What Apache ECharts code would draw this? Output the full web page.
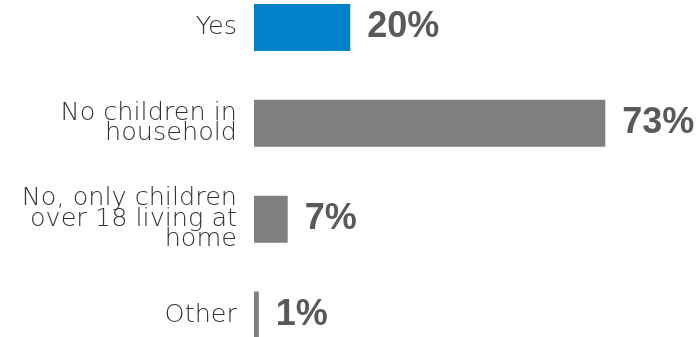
<!DOCTYPE html>
<html>
<head>
<meta charset="utf-8">
<script src="https://cdn.jsdelivr.net/npm/echarts@6/dist/echarts.min.js"></script>
<style>html,body{margin:0;padding:0;background:#fff;}#c{width:697px;height:337px;}</style>
</head>
<body>
<div id="c"></div>
<script>
var categories = ["Yes", "No children in\nhousehold", "No, only children\nover 18 living at\nhome", "Other"];
var values = [20, 73, 7, 1];
var barColors = ["#0082CA", "#7F7F7F", "#7F7F7F", "#7F7F7F"];

var chart = echarts.init(document.getElementById('c'));
chart.setOption({
  animation: false,
  grid: { left: 254, top: -20.4, height: 383.3, width: 385, outerBoundsMode: 'none', containLabel: false },
  xAxis: { type: 'value', min: 0, max: 80, show: false },
  yAxis: {
    type: 'category', data: categories, inverse: true,
    axisLine: { show: false }, axisTick: { show: false },
    axisLabel: {
      margin: 17, color: '#333333', fontFamily: 'DejaVu Sans', fontSize: 25.5,
      fontWeight: 200, lineHeight: 20.5, align: 'right', padding: [0, 0, 8, 0]
    }
  },
  series: [{
    type: 'bar', barWidth: 47,
    data: values.map(function (v, i) { return { value: v, itemStyle: { color: barColors[i] } }; }),
    label: {
      show: true, position: 'right', distance: 17, formatter: '{c}%',
      color: '#595959', fontFamily: 'Liberation Sans', fontWeight: 'bold', fontSize: 36
    }
  }]
});
</script>
</body>
</html>
